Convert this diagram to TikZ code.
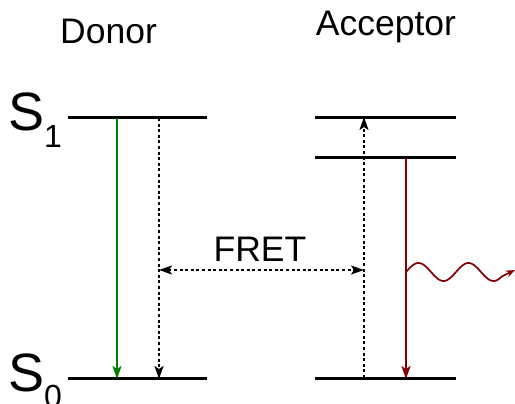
\documentclass[tikz,border=0pt]{standalone}
\usepackage{fontspec}
\setmainfont{Liberation Sans}
\usetikzlibrary{arrows.meta}
\definecolor{emitgreen}{RGB}{0,128,0}
\definecolor{emitred}{RGB}{128,0,0}
\begin{document}
\begin{tikzpicture}[x=1pt,y=-1pt,
  level/.style={line width=3pt},
  head/.tip={Stealth[length=13pt,width=9pt,inset=3pt]},
  tip/.style={-head},
  dotline/.style={line width=1.8pt,dash pattern=on 3pt off 2.6pt},
  label/.style={font=\fontsize{35.5}{38}\selectfont,inner sep=0pt},
  state/.style={font=\fontsize{54}{56}\selectfont,inner sep=0pt,anchor=base west}]
\useasboundingbox (0,0) rectangle (515,404);

% energy levels
\coordinate (dS1l) at (68,118);  \coordinate (dS1r) at (207,118);
\coordinate (dS0l) at (68,378);  \coordinate (dS0r) at (207,378);
\coordinate (aS2l) at (315,118); \coordinate (aS2r) at (456,118);
\coordinate (aS1l) at (315,158); \coordinate (aS1r) at (456,158);
\coordinate (aS0l) at (315,378); \coordinate (aS0r) at (456,378);
\draw[level] (dS1l) -- (dS1r);
\draw[level] (dS0l) -- (dS0r);
\draw[level] (aS2l) -- (aS2r);
\draw[level] (aS1l) -- (aS1r);
\draw[level] (aS0l) -- (aS0r);

% titles and state labels
\node[label] (donor) at (108.5,31) {Donor};
\node[label] (acceptor) at (386,27) {Acceptor};
\node[label] (fret) at (260,249) {FRET};
\node[state] (s1) at (8,131) {S\raisebox{-0.3em}{\fontsize{32}{34}\selectfont 1}};
\node[state] (s0) at (8,391) {S\raisebox{-0.3em}{\fontsize{32}{34}\selectfont 0}};

% donor transitions
\coordinate (gTop) at (117,118); \coordinate (gBot) at (117,379);
\draw[tip,emitgreen,line width=2pt] (gTop) -- (gBot);
\coordinate (dTop) at (159,118); \coordinate (dBot) at (159,379);
\draw[dotline,-head] (dTop) -- (dBot);

% acceptor transitions
\coordinate (aBot) at (364,378); \coordinate (aTop) at (364,117);
\draw[dotline,-head] (aBot) -- (aTop);
\coordinate (rTop) at (406,158); \coordinate (rBot) at (406,379);
\draw[tip,emitred,line width=2pt] (rTop) -- (rBot);

% energy transfer
\coordinate (fL) at (159,270); \coordinate (fR) at (364,270);
\draw[dotline,head-head] (fL) -- (fR);

% emitted photon
\coordinate (wStart) at (406,272);
\coordinate (wEnd) at (515,270);
\draw[emitred,line width=1.7pt,-{Stealth[length=9pt,width=7pt]}]
  (wStart) plot[domain=0:96,samples=80,smooth] ({406+\x},{272-9*sin(\x*7.2)})
  -- (wEnd);
\end{tikzpicture}
\end{document}
